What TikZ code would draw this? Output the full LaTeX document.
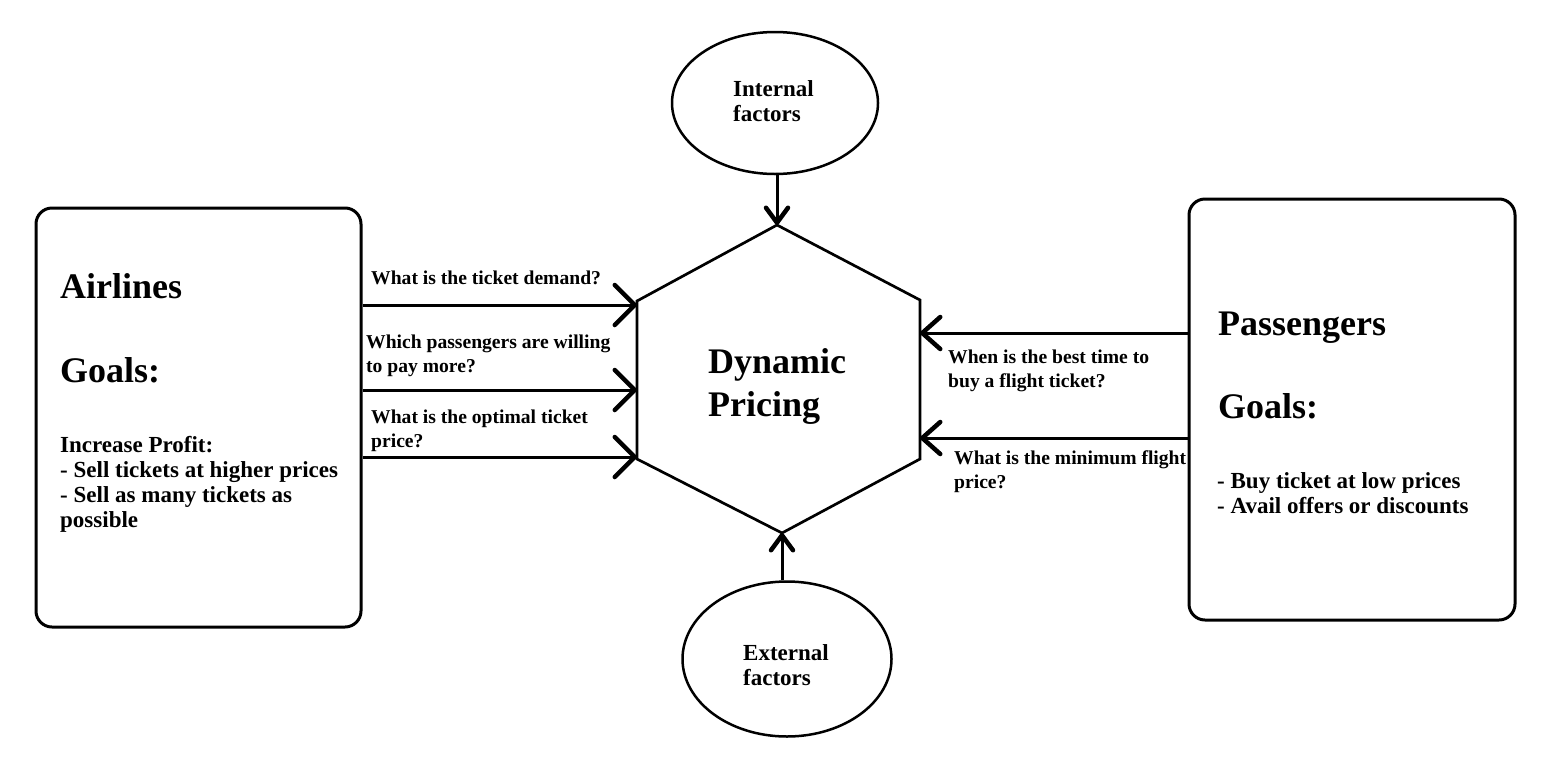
\documentclass[tikz,border=0pt]{standalone}
\usepackage{fontspec}
\setmainfont{Liberation Serif}
\usetikzlibrary{arrows.meta,shapes.geometric}
\begin{document}
\begin{tikzpicture}[x=1pt,y=-1pt,
  box/.style={draw,line width=3pt,rounded corners=16pt,inner sep=0pt},
  oval/.style={draw,ellipse,line width=2.5pt,inner sep=0pt},
  qlabel/.style={anchor=base west,inner sep=0pt,align=left,font=\fontsize{19.6}{24}\selectfont\bfseries},
  body/.style={anchor=base west,inner sep=0pt,align=left,font=\fontsize{23}{25}\selectfont\bfseries},
  title/.style={anchor=base west,inner sep=0pt,align=left,font=\fontsize{36}{43}\selectfont\bfseries},
  flabel/.style={anchor=base west,inner sep=0pt,align=left,font=\fontsize{23}{25}\selectfont\bfseries},
  conn/.style={line width=3pt},
  barbH/.style={conn,-{Straight Barb[length=20pt,width=40pt,line width=4.5pt,round]}},
  barbR/.style={conn,-{Straight Barb[length=18pt,width=32pt,line width=4.5pt,round]}},
  barbV/.style={conn,-{Straight Barb[length=15pt,width=22pt,line width=4.5pt,round]}}
]
\useasboundingbox (0,0) rectangle (1558,769);
\fill[white] (0,0) rectangle (1558,769);

% boxes
\node[box,minimum width=325pt,minimum height=419pt] (airlines) at (198.5,417.5) {};
\node[box,minimum width=326pt,minimum height=421pt] (passengers) at (1352,409.5) {};

% ellipses
\node[oval,minimum width=206pt,minimum height=142pt] (internal) at (775,103) {};
\node[oval,minimum width=209pt,minimum height=155pt] (external) at (787,659) {};

% hexagon
\coordinate (hT) at (777,225);
\coordinate (hUR) at (920,300);
\coordinate (hLR) at (920,459);
\coordinate (hB) at (782,533);
\coordinate (hLL) at (637,459);
\coordinate (hUL) at (637,301);
\draw[line width=2.7pt] (hT) -- (hUR) -- (hLR) -- (hB) -- (hLL) -- (hUL) -- cycle;

% arrow targets on the hexagon
\coordinate (qa1) at (637,305);
\coordinate (qa2) at (637,390);
\coordinate (qa3) at (637,457);
\coordinate (qp1) at (920,333);
\coordinate (qp2) at (920,438);

% connectors
\draw[barbV] (internal.south -| hT) -- (hT);
\draw[barbV] (external.north -| hB) -- (hB);
\draw[barbH] (airlines.east |- qa1) -- (qa1);
\draw[barbH] (airlines.east |- qa2) -- (qa2);
\draw[barbH] (airlines.east |- qa3) -- (qa3);
\draw[barbR] (passengers.west |- qp1) -- (qp1);
\draw[barbR] (passengers.west |- qp2) -- (qp2);

% texts (multi-line nodes are placed by the baseline of their last line)
\node[title] (dp) at (708,416) {Dynamic\\Pricing};
\node[flabel] (intl) at (733,121) {Internal\\factors};
\node[flabel] (extl) at (743,685) {External\\factors};

\node[title] (at) at (60,298) {Airlines};
\node[title] (ag) at (60,382) {Goals:};
\node[body] (ab) at (60,527) {Increase Profit:\\- Sell tickets at higher prices\\- Sell as many tickets as\\possible};

\node[title] (pt) at (1218,335) {Passengers};
\node[title] (pg) at (1218,418) {Goals:};
\node[body] (pb) at (1217,513) {- Buy ticket at low prices\\- Avail offers or discounts};

\node[qlabel] (q1) at (371,284) {What is the ticket demand?};
\node[qlabel] (q2) at (366,372) {Which passengers are willing\\to pay more?};
\node[qlabel] (q3) at (371,447) {What is the optimal ticket\\price?};
\node[qlabel] (q4) at (948,387) {When is the best time to\\buy a flight ticket?};
\node[qlabel] (q5) at (954,488) {What is the minimum flight\\price?};
\end{tikzpicture}
\end{document}
